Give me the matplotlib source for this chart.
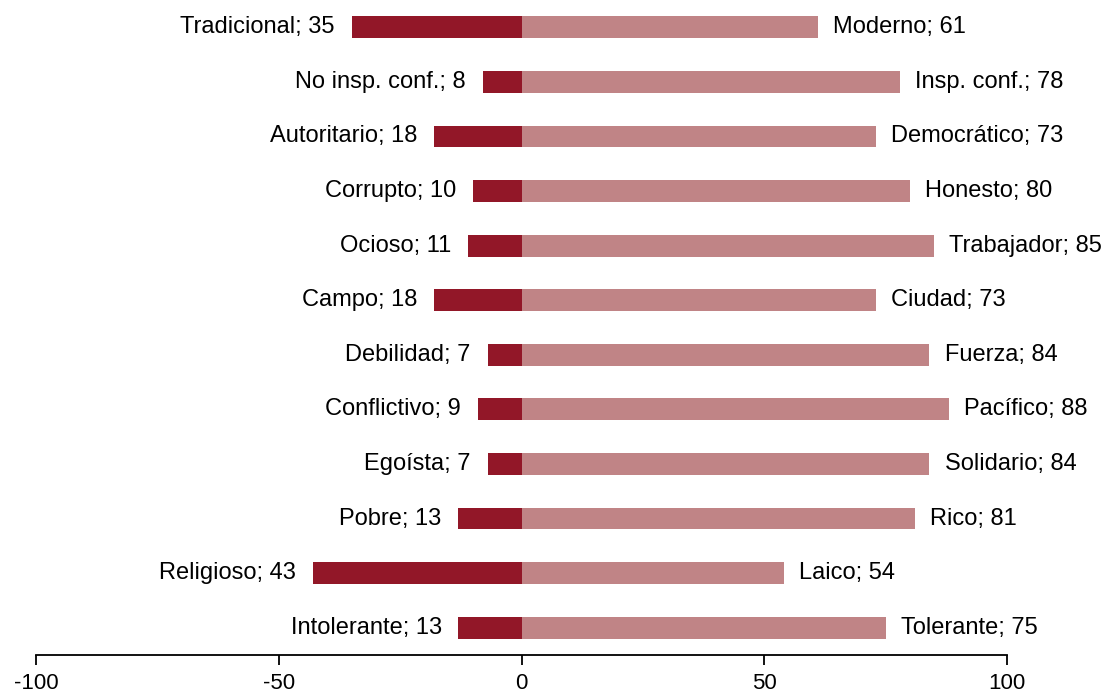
import numpy as np
from matplotlib import pyplot as plt

plt.rcParams["font.family"] = ["Liberation Sans", "DejaVu Sans"]
plt.rcParams["axes.unicode_minus"] = False

# Data (top to bottom as in the chart)
left_labels = ["Tradicional", "No insp. conf.", "Autoritario", "Corrupto", "Ocioso", "Campo",
               "Debilidad", "Conflictivo", "Egoísta", "Pobre", "Religioso", "Intolerante"]
left_values = [35, 8, 18, 10, 11, 18, 7, 9, 7, 13, 43, 13]
right_labels = ["Moderno", "Insp. conf.", "Democrático", "Honesto", "Trabajador", "Ciudad",
                "Fuerza", "Pacífico", "Solidario", "Rico", "Laico", "Tolerante"]
right_values = [61, 78, 73, 80, 85, 73, 84, 88, 84, 81, 54, 75]

dark_red = "#921728"
light_red = "#C08486"

fig = plt.figure(figsize=(11.07, 6.93), dpi=100)
ax = fig.add_axes([36 / 1107, 38 / 693, 971 / 1107, 655 / 693])

n = len(left_values)
y = np.arange(n)[::-1]  # first item on top

ax.barh(y, [-v for v in left_values], height=0.4, color=dark_red, linewidth=0)
ax.barh(y, right_values, height=0.4, color=light_red, linewidth=0)

# bar labels
for yi, lab, v in zip(y, left_labels, left_values):
    ax.annotate(f"{lab}; {v}", xy=(-v, yi), xytext=(-12, 0), textcoords="offset points",
                ha="right", va="center", fontsize=17)
for yi, lab, v in zip(y, right_labels, right_values):
    ax.annotate(f"{lab}; {v}", xy=(v, yi), xytext=(11, 0), textcoords="offset points",
                ha="left", va="center", fontsize=17)

ax.set_xlim(-100, 100)
ax.set_ylim(-0.5, n - 0.5)
ax.set_xticks([-100, -50, 0, 50, 100])
ax.set_yticks([])
for side in ["top", "right", "left"]:
    ax.spines[side].set_visible(False)
ax.spines["bottom"].set_linewidth(1.3)
ax.tick_params(axis="x", direction="out", length=7, width=1.3, labelsize=16, pad=6)

fig.savefig("out.png", dpi=100)
plt.close()
